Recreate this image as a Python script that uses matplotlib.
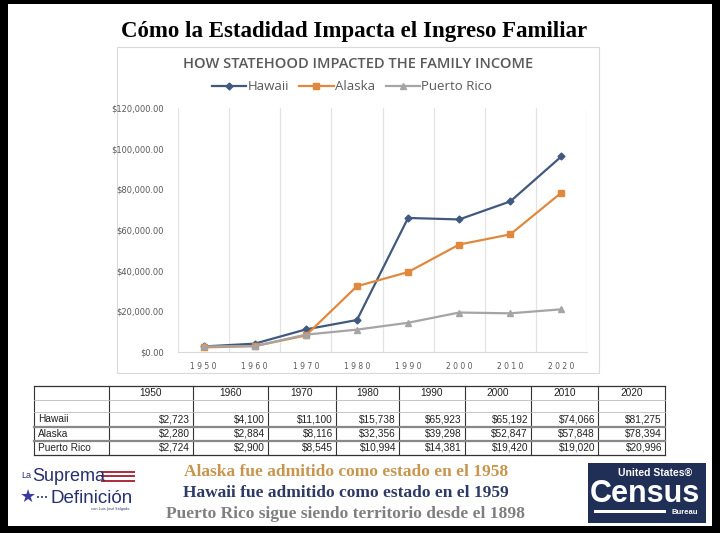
import numpy as np
import matplotlib.pyplot as plt
from matplotlib.patches import Rectangle

W, H = 720, 533

years = [1950, 1960, 1970, 1980, 1990, 2000, 2010, 2020]
# values as drawn in the chart (Hawaii 2020 is plotted higher than the table says)
hawaii_chart = [2723, 4100, 11100, 15738, 65923, 65192, 74066, 96200]
alaska = [2280, 2884, 8116, 32356, 39298, 52847, 57848, 78394]
puerto_rico = [2724, 2900, 8545, 10994, 14381, 19420, 19020, 20996]
# values as printed in the table
hawaii_table = [2723, 4100, 11100, 15738, 65923, 65192, 74066, 81275]

series_names = ["Hawaii", "Alaska", "Puerto Rico"]
y_ticks = [0, 20000, 40000, 60000, 80000, 100000, 120000]

title = "Cómo la Estadidad Impacta el Ingreso Familiar"
chart_title = "HOW STATEHOOD IMPACTED THE FAMILY INCOME"
notes = ["Alaska fue admitido como estado en el 1958",
         "Hawaii fue admitido como estado en el 1959",
         "Puerto Rico sigue siendo territorio desde el 1898"]

c_hi = "#41597f"
c_ak = "#e0893e"
c_pr = "#a5a5a5"
grey_txt = "#595959"
narrow = dict(family="Liberation Sans")


def fx(x):
    return x / W


def fy(y):
    return 1 - y / H


fig = plt.figure(figsize=(7.2, 5.33), dpi=100)
fig.patch.set_facecolor("white")

# black frame
for (x0, y0, w, h) in [(0, 0, 720, 4), (0, 0, 8, 533), (712, 0, 8, 533), (0, 526, 720, 7)]:
    fig.patches.append(Rectangle((fx(x0), fy(y0 + h)), w / W, h / H, transform=fig.transFigure,
                                 facecolor="black", edgecolor="none", zorder=-2))

fig.text(fx(354), fy(32), title, ha="center", va="center", fontsize=16.5,
         family="Liberation Serif", weight="bold", color="black")

# chart box
fig.patches.append(Rectangle((fx(117), fy(373)), 482 / W, 326 / H, transform=fig.transFigure,
                             facecolor="white", edgecolor="#d9d9d9", lw=0.8, zorder=-1))
fig.text(fx(358), fy(64), chart_title, ha="center", va="center", fontsize=10.5,
         family="Open Sans", weight="semibold", color=grey_txt)

ax = fig.add_axes([fx(178), fy(352), (587 - 178) / W, (352 - 108) / H])
ax.set_facecolor("none")
x = np.arange(len(years))
l1, = ax.plot(x, hawaii_chart, color=c_hi, lw=1.6, marker="D", ms=3.5, label=series_names[0])
l2, = ax.plot(x, alaska, color=c_ak, lw=1.6, marker="s", ms=4.5, label=series_names[1])
l3, = ax.plot(x, puerto_rico, color=c_pr, lw=1.6, marker="^", ms=4.5, label=series_names[2])
ax.set_xlim(-0.5, len(years) - 0.5)
ax.set_ylim(0, 120000)
ax.set_xticks(x)
ax.set_xticklabels([" ".join(str(y)) for y in years], fontsize=5.5, color=grey_txt)
ax.set_yticks(y_ticks)
ax.set_yticklabels(["${:,.2f}".format(v) for v in y_ticks], fontsize=6, color=grey_txt)
for b in np.arange(-0.5, len(years)):
    ax.axvline(b, color="#e3e3e3", lw=0.9, zorder=0)
for s in ["top", "right", "left"]:
    ax.spines[s].set_visible(False)
ax.spines["bottom"].set_color("#d9d9d9")
ax.tick_params(length=0, pad=7)
ax.tick_params(axis="y", pad=10)

fig.legend(handles=[l1, l2, l3], loc="center", bbox_to_anchor=(fx(352), fy(87)), ncol=3,
           frameon=False, handlelength=2.6, columnspacing=0.8, handletextpad=0.1,
           labelcolor=grey_txt, prop={"family": "Open Sans", "size": 9.5})

# table
col_edges = [34, 109, 193, 268, 336, 399, 465, 531, 598, 665]
row_edges = [386, 400, 412, 427, 441, 455]
table_rows = [hawaii_table, alaska, puerto_rico]
tf = dict(family="Liberation Sans", fontsize=7.3, color="#222222")

for xe in col_edges:
    fig.add_artist(plt.Line2D([fx(xe), fx(xe)], [fy(row_edges[0]), fy(row_edges[-1])],
                              transform=fig.transFigure, color="#333333", lw=0.8))
for j, ye in enumerate(row_edges):
    if j in (0, len(row_edges) - 1):
        col, lw = "#333333", 0.9
    elif j in (1, 2):
        col, lw = "#bbbbbb", 0.6
    else:
        col, lw = "#888888", 1.6
    fig.add_artist(plt.Line2D([fx(col_edges[0]), fx(col_edges[-1])], [fy(ye), fy(ye)],
                              transform=fig.transFigure, color=col, lw=lw))

for k, yr in enumerate(years):
    xc = (col_edges[k + 1] + col_edges[k + 2]) / 2
    fig.text(fx(xc), fy((row_edges[0] + row_edges[1]) / 2), str(yr), ha="center", va="center", **tf)
for r, (name, vals) in enumerate(zip(series_names, table_rows)):
    yc = (row_edges[r + 2] + row_edges[r + 3]) / 2
    fig.text(fx(col_edges[0] + 4), fy(yc), name, ha="left", va="center", **tf)
    for k, v in enumerate(vals):
        fig.text(fx(col_edges[k + 2] - 3), fy(yc), "${:,}".format(v), ha="right", va="center", **tf)

# notes
note_cols = ["#c8954f", "#2e3a66", "#7f7f7f"]
for t, c, yy in zip(notes, note_cols, [472, 493, 514]):
    fig.text(fx(346), fy(yy), t, ha="center", va="center", fontsize=12.5,
             family="Liberation Serif", weight="bold", color=c)

# La Suprema Definicion logo
navy = "#27306e"
fig.text(fx(21), fy(478), "La", fontsize=6.5, color=navy, va="baseline", **narrow)
fig.text(fx(32), fy(481), "Suprema", fontsize=13, color=navy, va="baseline", **narrow)
for i, c in enumerate(["#b03040", "#ffffff", "#b03040", "#ffffff", "#b03040"]):
    fig.patches.append(Rectangle((fx(101), fy(471 + i * 2.2 + 2)), 34 / W, 2.2 / H,
                                 transform=fig.transFigure, facecolor=c, edgecolor="none"))
fig.text(fx(28), fy(497), "\u2605", fontsize=13, color="#3a3aa0", ha="center", va="center",
         family="DejaVu Sans")
fig.text(fx(36), fy(500), "\u2022\u2022\u2022", fontsize=5, color=navy, va="baseline", family="DejaVu Sans")
fig.text(fx(51), fy(503), "Definición", fontsize=13.5, color=navy, va="baseline", **narrow)
fig.text(fx(110), fy(510), "con Luis José Salgado", fontsize=2.5, color=navy, va="baseline",
         ha="center")

# Census logo
fig.patches.append(Rectangle((fx(588), fy(523)), 118 / W, 60 / H, transform=fig.transFigure,
                             facecolor="#1f2f55", edgecolor="none"))
fig.text(fx(655), fy(473), "United States\u00ae", fontsize=7.5, color="white", ha="center", va="center",
         weight="bold", **narrow)
fig.text(fx(645), fy(494), "Census", fontsize=22, color="white", ha="center", va="center",
         weight="bold", **narrow)
fig.patches.append(Rectangle((fx(594), fy(513)), 72 / W, 3 / H, transform=fig.transFigure,
                             facecolor="white", edgecolor="none"))
fig.text(fx(685), fy(512), "Bureau", fontsize=5.5, color="white", ha="center", va="center",
         weight="bold", **narrow)

fig.savefig("out.png", dpi=100)
